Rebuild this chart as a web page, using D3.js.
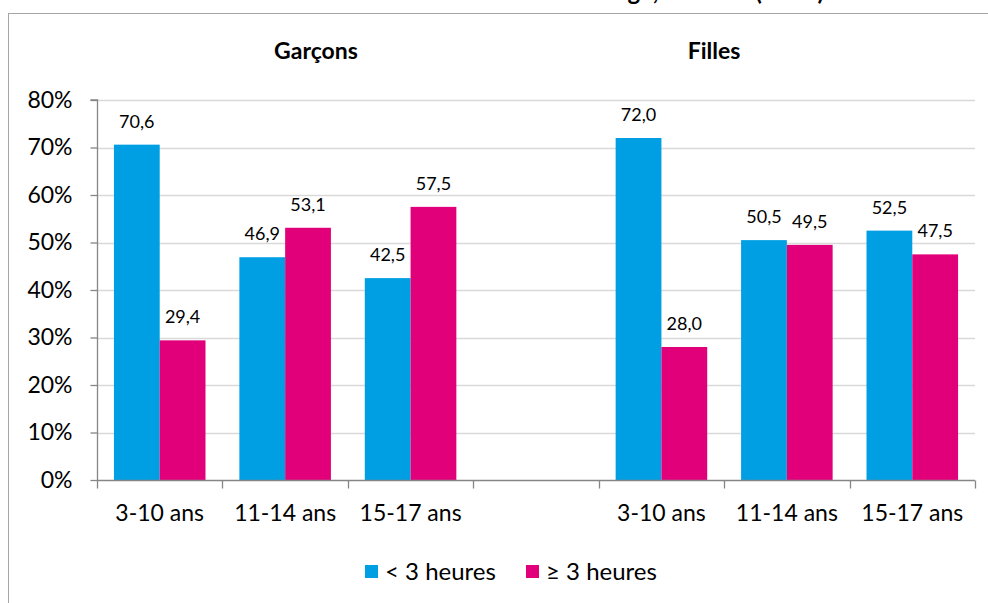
<!DOCTYPE html>
<html>
<head>
<meta charset="utf-8">
<script src="https://cdn.jsdelivr.net/npm/d3@7"></script>
<style>
  html, body { margin: 0; padding: 0; background: #ffffff; }
  svg { display: block; font-family: Lato, "Open Sans", sans-serif; }
</style>
</head>
<body>
<svg id="chart" width="988" height="603"></svg>
<script>
// ---- data ----
const groups = ["Garçons", "Filles"];
const ageClasses = ["3-10 ans", "11-14 ans", "15-17 ans"];
const seriesNames = ["< 3 heures", "≥ 3 heures"];
const lessThan3h = [70.6, 46.9, 42.5, 72.0, 50.5, 52.5];
const atLeast3h = [29.4, 53.1, 57.5, 28.0, 49.5, 47.5];
const yTickValues = [0, 10, 20, 30, 40, 50, 60, 70, 80];
const titleText = "Durée devant les écrans selon le sexe et l'âge, Esteban (2015)";

// ---- layout ----
const colors = ["#009FE3", "#E2007A"];
const svg = d3.select("#chart");
const plot = { left: 97, right: 975, top: 100, bottom: 480 };

// frame
svg.append("rect")
  .attr("x", 8.5).attr("y", 13.5)
  .attr("width", 1000).attr("height", 700)
  .attr("fill", "none").attr("stroke", "#a6a6a6").attr("stroke-width", 1);

// title (cut off by the top edge, as in the reference)
svg.append("text")
  .attr("x", 824).attr("y", 0)
  .attr("text-anchor", "end")
  .attr("font-weight", "bold").attr("font-size", 24)
  .attr("fill", "#000")
  .text(titleText);

// categories: 3 boys, empty slot, 3 girls
const slots = [];
groups.forEach((g, gi) => {
  ageClasses.forEach((a, ai) => {
    slots.push({ key: g + "|" + a, label: a, idx: gi * ageClasses.length + ai });
  });
  if (gi < groups.length - 1) slots.push({ key: "gap" + gi, label: "", idx: -1 });
});

const x0 = d3.scaleBand()
  .domain(slots.map(d => d.key))
  .range([plot.left, plot.right])
  .paddingInner(0).paddingOuter(0);

const x1 = d3.scaleBand()
  .domain(seriesNames)
  .range([0, x0.bandwidth()])
  .paddingInner(0).paddingOuter(0.37);

const y = d3.scaleLinear()
  .domain([0, 80])
  .range([plot.bottom, plot.top]);

// gridlines
svg.append("g").selectAll("line")
  .data(yTickValues.filter(v => v > 0))
  .join("line")
  .attr("x1", plot.left).attr("x2", plot.right)
  .attr("y1", d => Math.round(y(d)) + 0.5).attr("y2", d => Math.round(y(d)) + 0.5)
  .attr("stroke", "#d9d9d9").attr("stroke-width", 1.3);

// bars
const barData = [];
slots.filter(s => s.idx >= 0).forEach(s => {
  barData.push({ slot: s.key, series: seriesNames[0], value: lessThan3h[s.idx], color: colors[0] });
  barData.push({ slot: s.key, series: seriesNames[1], value: atLeast3h[s.idx], color: colors[1] });
});

svg.append("g").selectAll("rect")
  .data(barData)
  .join("rect")
  .attr("x", d => x0(d.slot) + x1(d.series))
  .attr("width", x1.bandwidth())
  .attr("y", d => y(d.value))
  .attr("height", d => y(0) - y(d.value))
  .attr("fill", d => d.color);

// data labels
const fmt = v => d3.format(".1f")(v).replace(".", ",");
svg.append("g").selectAll("text")
  .data(barData)
  .join("text")
  .attr("x", d => x0(d.slot) + x1(d.series) + x1.bandwidth() / 2)
  .attr("y", d => y(d.value) - 17)
  .attr("text-anchor", "middle")
  .attr("font-size", 18)
  .attr("fill", "#000")
  .text(d => fmt(d.value));

// y axis
const yAxis = d3.axisLeft(y)
  .tickValues(yTickValues)
  .tickFormat(d => d + "%")
  .tickSize(7)
  .tickPadding(18);
const gy = svg.append("g")
  .attr("transform", `translate(${plot.left + 0.5},0)`)
  .call(yAxis);
gy.select(".domain").attr("stroke", "#868686").attr("stroke-width", 1.3).attr("d", `M-7,${plot.top}H0V${plot.bottom}`);
gy.selectAll(".tick line").attr("stroke", "#868686").attr("stroke-width", 1.3);
gy.selectAll(".tick text").attr("font-size", 23).attr("font-family", "Lato, sans-serif").attr("fill", "#000");

// x axis
const xAxis = d3.axisBottom(x0)
  .tickFormat(k => slots.find(s => s.key === k).label)
  .tickSize(0)
  .tickPadding(24);
const gx = svg.append("g")
  .attr("transform", `translate(0,${plot.bottom + 0.5})`)
  .call(xAxis);
gx.select(".domain").attr("stroke", "#868686").attr("stroke-width", 1.3).attr("d", `M${plot.left},0H${plot.right}`);
gx.selectAll(".tick text").attr("font-size", 23).attr("font-family", "Lato, sans-serif").attr("fill", "#000");
// boundary tick marks
const bounds = slots.map(s => x0(s.key)).concat([plot.right]);
gx.append("g").selectAll("line")
  .data(bounds)
  .join("line")
  .attr("x1", d => Math.round(d) + 0.5).attr("x2", d => Math.round(d) + 0.5)
  .attr("y1", 0).attr("y2", 8)
  .attr("stroke", "#868686").attr("stroke-width", 1.3);

// group headers
const headerX = [316, 714];
svg.append("g").selectAll("text")
  .data(groups)
  .join("text")
  .attr("x", (d, i) => headerX[i])
  .attr("y", 59)
  .attr("text-anchor", "middle")
  .attr("font-weight", "bold")
  .attr("font-size", 23)
  .attr("fill", "#000")
  .text(d => d);

// legend
const legendPos = [{ x: 365, tx: 385 }, { x: 526, tx: 546 }];
const lg = svg.append("g");
seriesNames.forEach((name, i) => {
  lg.append("rect")
    .attr("x", legendPos[i].x).attr("y", 565)
    .attr("width", 13).attr("height", 13)
    .attr("fill", colors[i]);
  lg.append("text")
    .attr("x", legendPos[i].tx).attr("y", 580)
    .attr("font-size", 24)
    .attr("fill", "#000")
    .text(name);
});
</script>
</body>
</html>
